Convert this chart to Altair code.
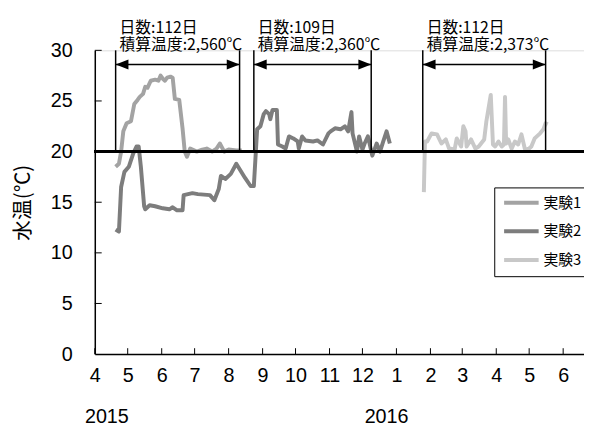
import altair as alt
import pandas as pd

# ---------------- data ----------------
s1_dates = ["2015/04/20", "2015/04/23", "2015/04/25", "2015/04/27", "2015/04/30", "2015/05/04",
            "2015/05/07", "2015/05/10", "2015/05/12", "2015/05/15", "2015/05/17", "2015/05/19",
            "2015/05/22", "2015/05/26", "2015/05/29", "2015/05/31", "2015/06/02", "2015/06/04",
            "2015/06/06", "2015/06/09", "2015/06/11", "2015/06/13", "2015/06/17", "2015/06/20",
            "2015/06/22", "2015/06/24", "2015/06/27", "2015/07/03", "2015/07/08", "2015/07/12",
            "2015/07/17", "2015/07/21", "2015/07/24", "2015/07/28", "2015/08/01", "2015/08/08",
            "2015/08/13"]
s1_vals = [18.5, 18.8, 20.0, 22.0, 22.8, 23.0,
           24.7, 25.1, 25.4, 25.7, 26.4, 26.3,
           27.0, 27.1, 27.0, 27.5, 27.2, 27.0,
           27.3, 27.4, 27.3, 25.2, 25.1, 22.3,
           20.0, 19.5, 20.3, 20.0, 20.2, 20.3,
           20.0, 20.3, 20.8, 20.0, 20.2, 20.1,
           20.1]

s2_dates = ["2015/04/20", "2015/04/23", "2015/04/25", "2015/04/28", "2015/05/02", "2015/05/06",
            "2015/05/09", "2015/05/11", "2015/05/13", "2015/05/16", "2015/05/17", "2015/05/21",
            "2015/05/26", "2015/06/02", "2015/06/08", "2015/06/11", "2015/06/15", "2015/06/20",
            "2015/06/21", "2015/06/29", "2015/07/04", "2015/07/15", "2015/07/19", "2015/07/23",
            "2015/07/25", "2015/07/29", "2015/08/03", "2015/08/08", "2015/08/16", "2015/08/21",
            "2015/08/24", "2015/08/27", "2015/08/30", "2015/09/02", "2015/09/04", "2015/09/07",
            "2015/09/08", "2015/09/10", "2015/09/14", "2015/09/15", "2015/09/19", "2015/09/22",
            "2015/09/25", "2015/09/29", "2015/10/03", "2015/10/04", "2015/10/07", "2015/10/10",
            "2015/10/17", "2015/10/21", "2015/10/26", "2015/10/31", "2015/11/02", "2015/11/06",
            "2015/11/11", "2015/11/15", "2015/11/18", "2015/11/21", "2015/11/22", "2015/11/26",
            "2015/11/28", "2015/12/01", "2015/12/03", "2015/12/06", "2015/12/10", "2015/12/14",
            "2015/12/17", "2015/12/20", "2015/12/23", "2015/12/26"]
s2_vals = [12.3, 12.1, 16.5, 18.0, 18.5, 19.8,
           20.5, 20.5, 18.5, 14.6, 14.3, 14.7,
           14.6, 14.4, 14.3, 14.5, 14.2, 14.2,
           15.7, 15.9, 15.8, 15.7, 15.2, 16.3,
           17.6, 17.3, 17.8, 18.8, 17.4, 16.6,
           16.6, 22.2, 22.5, 23.7, 24.0, 23.7,
           23.2, 24.1, 24.1, 20.7, 20.5, 20.3,
           21.5, 21.3, 21.0, 20.3, 21.5, 21.1,
           21.0, 21.1, 20.7, 21.8, 22.0, 22.3,
           22.2, 22.5, 22.0, 23.9, 21.8, 20.0,
           21.5, 20.2, 20.8, 21.5, 19.6, 20.8,
           20.0, 21.0, 22.0, 20.8]

s3_dates = ["2016/01/26", "2016/01/27", "2016/01/29", "2016/02/02", "2016/02/07", "2016/02/11",
            "2016/02/15", "2016/02/18", "2016/02/23", "2016/02/25", "2016/02/29", "2016/03/02",
            "2016/03/04", "2016/03/05", "2016/03/09", "2016/03/13", "2016/03/16", "2016/03/21",
            "2016/03/23", "2016/03/27", "2016/03/29", "2016/03/31", "2016/04/03", "2016/04/06",
            "2016/04/08", "2016/04/09", "2016/04/10", "2016/04/12", "2016/04/15", "2016/04/18",
            "2016/04/21", "2016/04/24", "2016/04/27", "2016/04/30", "2016/05/03", "2016/05/06",
            "2016/05/11", "2016/05/14", "2016/05/16", "2016/05/18"]
s3_vals = [16.0, 21.0, 21.0, 21.8, 21.7, 20.8,
           21.2, 20.3, 20.2, 21.3, 20.5, 22.5,
           22.0, 20.5, 21.2, 20.3, 20.5, 21.2,
           23.0, 25.6, 20.7, 20.5, 21.0, 20.5,
           20.7, 25.4, 20.8, 21.2, 20.3, 21.0,
           20.7, 21.7, 20.3, 20.2, 20.5, 21.3,
           21.8, 22.2, 22.8, 22.7]

series_names = ["実験1", "実験2", "実験3"]
series_colors = ["#a3a3a3", "#7d7d7d", "#c8c8c8"]

box_start = ["2015/04/20", "2015/08/24", "2016/01/25"]
box_end = ["2015/08/11", "2015/12/09", "2016/05/16"]
days_text = ["日数:112日", "日数:109日", "日数:112日"]
temp_text = ["積算温度:2,560℃", "積算温度:2,360℃", "積算温度:2,373℃"]

month_ticks = ["2015/04/01", "2015/05/01", "2015/06/01", "2015/07/01", "2015/08/01",
               "2015/09/01", "2015/10/01", "2015/11/01", "2015/12/01", "2016/01/01",
               "2016/02/01", "2016/03/01", "2016/04/01", "2016/05/01", "2016/06/01"]
y_ticks = [0, 5, 10, 15, 20, 25, 30]
year_labels = ["2015", "2016"]
year_label_dates = ["2015/04/12", "2015/12/23"]

# ---------------- tables ----------------
frames = []
for name, d, v in zip(series_names, [s1_dates, s2_dates, s3_dates], [s1_vals, s2_vals, s3_vals]):
    frames.append(pd.DataFrame({"date": d, "temp": v, "series": name}))
df = pd.concat(frames, ignore_index=True)

boxes = pd.DataFrame({"date": box_start, "end": box_end,
                      "label": [a + "\n" + b for a, b in zip(days_text, temp_text)]})
edges = pd.DataFrame({"date": box_start + box_end})
ticks_df = pd.DataFrame({"date": month_ticks})
yt_df = pd.DataFrame({"temp": y_ticks[1:]})
years_df = pd.DataFrame({"date": year_label_dates, "label": year_labels})

W, H = 496, 308
JP = "Noto Sans CJK JP"
NUM = "Liberation Sans"

xscale = alt.Scale(domain=[alt.DateTime(year=2015, month=4, date=1),
                           alt.DateTime(year=2016, month=6, date=20)], nice=False)
yscale = alt.Scale(domain=[0, 30], nice=False)

tick_values = [alt.DateTime(year=int(s[:4]), month=int(s[5:7]), date=1) for s in month_ticks]

xaxis = alt.Axis(values=tick_values, labelExpr="month(datum.value)+1",
                 ticks=False, tickSize=0, grid=False, title=None,
                 labelFont=NUM, labelFontSize=20, labelColor="black",
                 labelPadding=12, labelOverlap=False, labelFlush=False,
                 labelBound=False, domainColor="black", domainWidth=1.5)
yaxis = alt.Axis(values=y_ticks, ticks=False, tickSize=0, grid=False,
                 labelFont=NUM, labelFontSize=20, labelColor="black",
                 labelPadding=23, domainColor="black", domainWidth=1.5,
                 title="水温(℃)", titleFont=JP, titleFontSize=21,
                 titleFontWeight="normal", titleColor="black",
                 titleAngle=270, titleX=-72, titleY=154,
                 titleAlign="center", titleBaseline="middle")


def X(field):
    return alt.X(field, scale=xscale, axis=xaxis)


def Y(field):
    return alt.Y(field, scale=yscale, axis=yaxis)


lines = alt.Chart(df).mark_line(strokeWidth=4, strokeJoin="round").encode(
    x=X("date:T"),
    y=Y("temp:Q"),
    color=alt.Color("series:N",
                    scale=alt.Scale(domain=series_names, range=series_colors),
                    legend=alt.Legend(title=None, orient="none", legendX=405, legendY=139,
                                      symbolType="stroke", symbolSize=1225,
                                      symbolStrokeWidth=4, labelFont=JP, labelFontSize=15,
                                      labelColor="black", labelOffset=3,
                                      strokeColor="black", padding=8, fillColor="white",
                                      rowPadding=13, clipHeight=15)),
    detail="series:N",
)

hline = alt.Chart(df).mark_rule(color="black", strokeWidth=2).encode(
    y=alt.datum(20, scale=yscale, axis=yaxis)
)

vlines = alt.Chart(edges).mark_rule(color="black", strokeWidth=1.5).encode(
    x=X("date:T"),
    y=alt.datum(20, axis=yaxis),
    y2=alt.datum(30),
)

arrow = alt.Chart(boxes).mark_rule(color="black", strokeWidth=1.5).encode(
    x=X("date:T"),
    x2="end:T",
    y=alt.datum(28.6, axis=yaxis),
)

head_l = alt.Chart(boxes).mark_point(filled=True, shape="M0,0L2.6,-1L2.6,1Z", size=100,
                                     color="black", opacity=1).encode(
    x=X("date:T"), y=alt.datum(28.6, axis=yaxis))
head_r = alt.Chart(boxes).mark_point(filled=True, shape="M0,0L-2.6,-1L-2.6,1Z", size=100,
                                     color="black", opacity=1).encode(
    x=X("end:T"), y=alt.datum(28.6, axis=yaxis))

txt = alt.Chart(boxes).mark_text(align="left", baseline="middle", dx=4, font=JP,
                                 fontSize=16, lineBreak="\n", lineHeight=18,
                                 color="black").encode(
    x=X("date:T"), y=alt.value(-23), text="label:N")

xt = alt.Chart(ticks_df).mark_rule(color="black", strokeWidth=1).encode(
    x=X("date:T"), y=alt.value(H), y2=alt.value(H - 6))
yt = alt.Chart(yt_df).mark_rule(color="black", strokeWidth=1).encode(
    y=Y("temp:Q"), x=alt.value(0), x2=alt.value(7))

years = alt.Chart(years_df).mark_text(align="center", baseline="middle", font=NUM,
                                      fontSize=20, color="black").encode(
    x=X("date:T"), y=alt.value(H + 64), text="label:N")

chart = alt.layer(lines, hline, vlines, arrow, head_l, head_r, txt, xt, yt, years).properties(
    width=W, height=H,
    autosize=alt.AutoSizeParams(type="none"),
    padding={"left": 88, "top": 40, "right": 0, "bottom": 72},
).configure_view(stroke=None).configure(background="white").configure_axisX(
    labelOverlap=False
)

chart.save("out.html", embed_options={"renderer": "svg", "actions": False})
